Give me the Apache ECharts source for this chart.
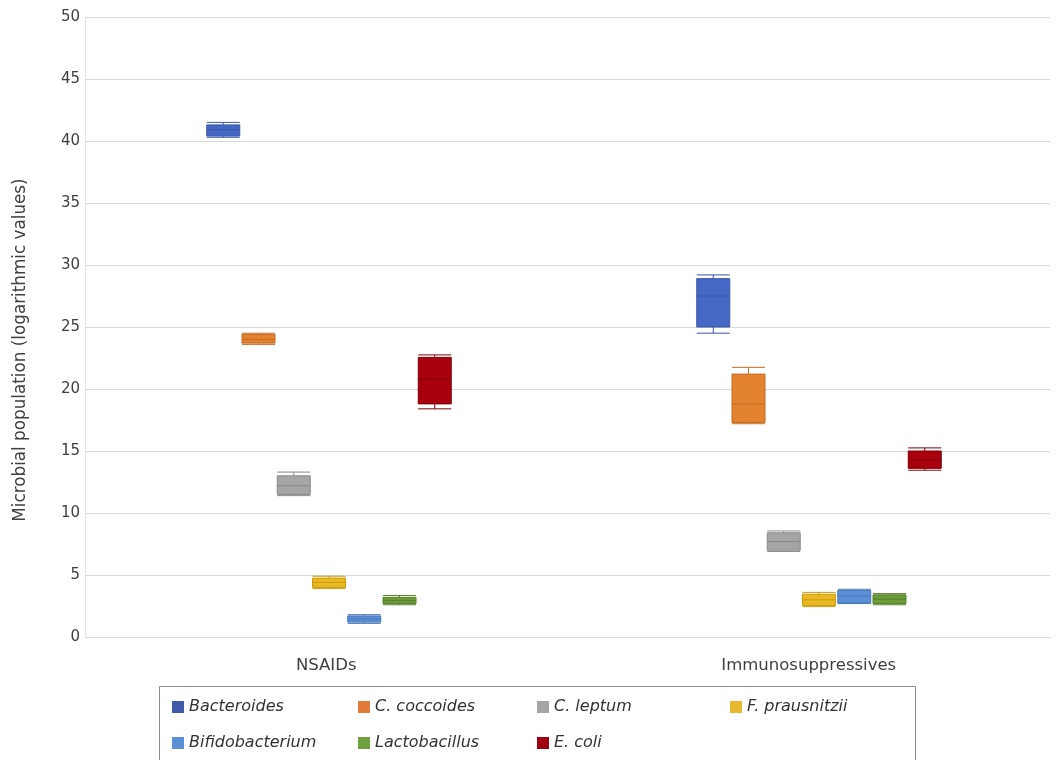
<!DOCTYPE html>
<html>
<head>
<meta charset="utf-8">
<style>
  html, body { margin: 0; padding: 0; background: #fff; }
  #chart { width: 1056px; height: 760px; }
</style>
<script src="https://cdn.jsdelivr.net/npm/echarts@6/dist/echarts.min.js"></script>
</head>
<body>
<div id="chart"></div>
<script>
// Treatment groups on the x axis
const groups = ['NSAIDs', 'Immunosuppressives'];

// Species shown as boxes, in legend order
const species = ['Bacteroides', 'C. coccoides', 'C. leptum', 'F. prausnitzii',
                 'Bifidobacterium', 'Lactobacillus', 'E. coli'];

// Box statistics per group: [min, Q1, median, Q3, max]
const bacteroides    = [[40.3, 40.4, 40.9, 41.3, 41.5],   [24.5, 25.0, 27.5, 28.9, 29.2]];
const cCoccoides     = [[23.6, 23.7, 24.0, 24.4, 24.5],   [17.2, 17.3, 18.8, 21.2, 21.75]];
const cLeptum        = [[11.4, 11.5, 12.2, 13.0, 13.3],   [6.9, 7.0, 7.7, 8.4, 8.55]];
const fPrausnitzii   = [[3.9, 4.0, 4.4, 4.75, 4.9],       [2.45, 2.55, 3.0, 3.45, 3.6]];
const bifidobacterium= [[1.1, 1.2, 1.45, 1.7, 1.8],       [2.7, 2.75, 3.3, 3.75, 3.85]];
const lactobacillus  = [[2.6, 2.7, 2.95, 3.2, 3.35],      [2.6, 2.7, 3.05, 3.4, 3.5]];
const eColi          = [[18.4, 18.8, 20.8, 22.55, 22.75], [13.45, 13.6, 14.3, 15.0, 15.25]];

const seriesValues = [bacteroides, cCoccoides, cLeptum, fPrausnitzii,
                      bifidobacterium, lactobacillus, eColi];

// Fill, outline and legend swatch colours per species
const fills   = ['#4668c5', '#e3822f', '#a5a5a5', '#e9b922', '#5b8fd6', '#6d9b3a', '#a8000c'];
const strokes = ['#3a56a6', '#c46a22', '#8a8a8a', '#c99a10', '#4a78b8', '#56802c', '#7e0008'];
const swatches = ['#3f5ba9', '#e07b3a', '#a6a6a6', '#e8b830', '#5b8fd6', '#6fa040', '#a00010'];

// Legend columns (species indices, top to bottom) and their left edges
const legendColumns = [[0, 4], [1, 5], [2, 6], [3]];
const legendColumnX = [172, 358, 537, 730];

// Value axis ticks
const yMin = 0, yMax = 50, yStep = 5;

const FONT = 'DejaVu Sans';
const plotTop = 17, plotBottom = 123;

// Boxes are placed side by side inside each group: every species gets
// its own transparent grid shifted by one box slot.
const slot = 35.25;
const boxGridLeft = 84, boxGridWidth = 980;

const grids = [{
  left: 85, right: 6, top: plotTop, bottom: plotBottom, outerBoundsMode: 'none'
}];
const xAxes = [{
  type: 'category', gridIndex: 0, data: groups,
  axisLine: { show: true, lineStyle: { color: '#d9d9d9' } },
  axisTick: { show: false },
  splitLine: { show: false },
  axisLabel: { fontFamily: FONT, fontSize: 16.5, color: '#404040', margin: 20 }
}];
const yAxes = [{
  type: 'value', gridIndex: 0, min: yMin, max: yMax, interval: yStep,
  name: 'Microbial population (logarithmic values)',
  nameLocation: 'middle', nameGap: 56,
  nameTextStyle: { fontFamily: FONT, fontSize: 16.8, color: '#404040', padding: [0, 46, 0, 0] },
  axisLine: { show: true, lineStyle: { color: '#e3e3e3' } },
  axisTick: { show: false },
  splitLine: { lineStyle: { color: '#d9d9d9', width: 1 } },
  axisLabel: { fontFamily: FONT, fontSize: 15, color: '#404040', margin: 5 }
}];
const series = [];

species.forEach(function (name, i) {
  const gi = i + 1;
  grids.push({
    left: boxGridLeft + (i - 3) * slot, width: boxGridWidth,
    top: plotTop, bottom: plotBottom, outerBoundsMode: 'none'
  });
  xAxes.push({ type: 'category', gridIndex: gi, data: groups, show: false });
  yAxes.push({ type: 'value', gridIndex: gi, min: yMin, max: yMax, interval: yStep, show: false });
  series.push({
    name: name,
    type: 'boxplot',
    xAxisIndex: gi,
    yAxisIndex: gi,
    boxWidth: [33, 33],
    data: seriesValues[i],
    itemStyle: { color: fills[i], borderColor: strokes[i], borderWidth: 1 },
    emphasis: { disabled: true }
  });
});

// One vertical legend per column so the columns line up
const legends = legendColumns.map(function (col, c) {
  return {
    data: col.map(function (i) {
      return { name: species[i], itemStyle: { color: swatches[i], borderWidth: 0 } };
    }),
    left: legendColumnX[c],
    top: 699,
    orient: 'vertical',
    icon: 'rect',
    itemWidth: 12,
    itemHeight: 12,
    itemGap: 20,
    padding: 0,
    selectedMode: false,
    textStyle: { fontFamily: FONT, fontSize: 16, fontStyle: 'italic', color: '#333' }
  };
});

const chart = echarts.init(document.getElementById('chart'), null, { renderer: 'canvas' });
chart.setOption({
  animation: false,
  backgroundColor: '#ffffff',
  color: fills,
  grid: grids,
  xAxis: xAxes,
  yAxis: yAxes,
  legend: legends,
  graphic: [{
    // frame around the legend block
    type: 'rect',
    left: 157,
    top: 684,
    shape: { width: 756, height: 95 },
    style: { fill: 'none', stroke: '#8c8c8c', lineWidth: 1 },
    silent: true
  }],
  series: series
});
</script>
</body>
</html>
